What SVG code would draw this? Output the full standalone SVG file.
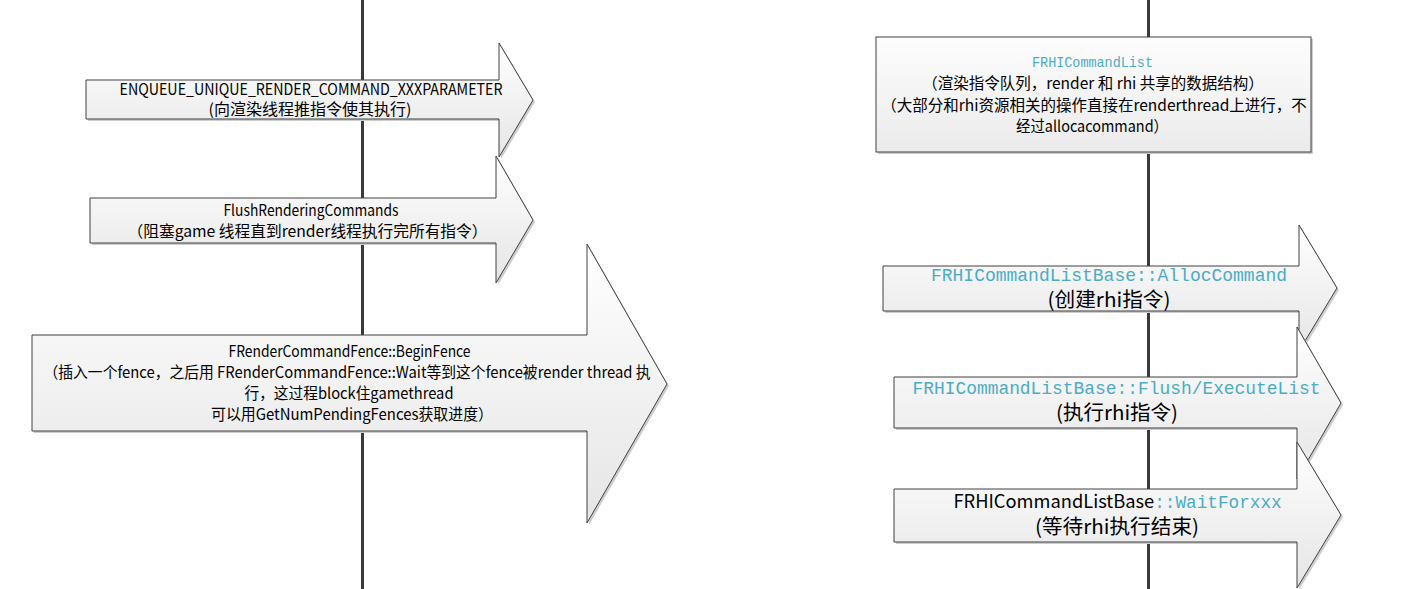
<svg xmlns="http://www.w3.org/2000/svg" width="1417" height="589" viewBox="0 0 1417 589">
<defs>
<linearGradient id="g" x1="0" y1="0" x2="0" y2="1">
<stop offset="0" stop-color="#ffffff"/>
<stop offset="1" stop-color="#e5e5e5"/>
</linearGradient>
<linearGradient id="gb" x1="0" y1="0" x2="0" y2="1">
<stop offset="0" stop-color="#fdfdfd"/>
<stop offset="1" stop-color="#ebebeb"/>
</linearGradient>
</defs>
<style>
.shape{fill:url(#g);stroke:#404040;stroke-width:1}
.box{fill:url(#gb);stroke:#404040;stroke-width:1}
.shadow{fill:#cdcdcd;stroke:none}
.line{stroke:#3a3a3a;stroke-width:3;fill:none}
.t{font-family:"Noto Sans CJK SC","Noto Sans",sans-serif;font-size:15.5px;fill:#000;text-anchor:middle}
.tb{font-family:"Noto Sans CJK SC","Noto Sans",sans-serif;font-size:20px;fill:#000;text-anchor:middle}
.m{font-family:"Liberation Mono",monospace;fill:#4bacc6}
</style>
<rect width="1417" height="589" fill="#ffffff"/>
<g id="connectors">
<line class="line" x1="362.5" y1="0" x2="362.5" y2="589"/>
<line class="line" x1="1148.5" y1="0" x2="1148.5" y2="589"/>
</g>
<g id="enqueue">
<path class="shadow" transform="translate(2,2)" d="M86,80 H499 V43 L533,100 L499,157 V119 H86 Z"/>
<path class="shape" d="M86,80 H499 V43 L533,100 L499,157 V119 H86 Z"/>
<text class="t" x="311" y="94.5" textLength="383" lengthAdjust="spacingAndGlyphs">ENQUEUE_UNIQUE_RENDER_COMMAND_XXXPARAMETER</text>
<text class="t" x="310" y="114.5" textLength="203" lengthAdjust="spacingAndGlyphs">(向渲染线程推指令使其执行)</text>
</g>
<g id="flush">
<path class="shadow" transform="translate(2,2)" d="M90,198 H496 V156 L533,220 L496,283 V243 H90 Z"/>
<path class="shape" d="M90,198 H496 V156 L533,220 L496,283 V243 H90 Z"/>
<text class="t" x="311" y="215.5" textLength="175" lengthAdjust="spacingAndGlyphs">FlushRenderingCommands</text>
<text class="t" x="307.5" y="236.5" textLength="360" lengthAdjust="spacingAndGlyphs">（阻塞game 线程直到render线程执行完所有指令）</text>
</g>
<g id="fence">
<path class="shadow" transform="translate(2,2)" d="M32,335 H587 V244 L667,384 L587,523 V431 H32 Z"/>
<path class="shape" d="M32,335 H587 V244 L667,384 L587,523 V431 H32 Z"/>
<text class="t" x="349.5" y="356.5" textLength="242" lengthAdjust="spacingAndGlyphs">FRenderCommandFence::BeginFence</text>
<text class="t" x="347" y="377.5" textLength="607" lengthAdjust="spacingAndGlyphs">（插入一个fence，之后用 FRenderCommandFence::Wait等到这个fence被render thread 执</text>
<text class="t" x="349" y="398.5" textLength="209" lengthAdjust="spacingAndGlyphs">行，这过程block住gamethread</text>
<text class="t" x="352" y="419.5" textLength="282" lengthAdjust="spacingAndGlyphs">可以用GetNumPendingFences获取进度）</text>
</g>
<g id="cmdlist">
<rect class="shadow" x="878" y="39" width="435" height="115"/>
<rect class="box" x="876" y="37" width="435" height="115"/>
<text class="m" x="1092.5" y="67" font-size="15" text-anchor="middle" textLength="121" lengthAdjust="spacingAndGlyphs">FRHICommandList</text>
<text class="t" x="1093" y="89">（渲染指令队列，render 和 rhi 共享的数据结构）</text>
<text class="t" x="1094" y="110.5">（大部分和rhi资源相关的操作直接在renderthread上进行，不</text>
<text class="t" x="1092" y="131.5" textLength="152" lengthAdjust="spacingAndGlyphs">经过allocacommand）</text>
</g>
<g id="alloc">
<path class="shadow" transform="translate(2,2)" d="M883,266 H1299 V225 L1337,288 L1299,351 V311 H883 Z"/>
<path class="shape" d="M883,266 H1299 V225 L1337,288 L1299,351 V311 H883 Z"/>
<text class="m" x="1109" y="281" font-size="18" text-anchor="middle" textLength="356" lengthAdjust="spacingAndGlyphs">FRHICommandListBase::AllocCommand</text>
<text class="tb" x="1109" y="307" textLength="123" lengthAdjust="spacingAndGlyphs">(创建rhi指令)</text>
</g>
<g id="execute">
<path class="shadow" transform="translate(2,2)" d="M894,377 H1297 V327 L1341,403 L1297,479 V428 H894 Z"/>
<path class="shape" d="M894,377 H1297 V327 L1341,403 L1297,479 V428 H894 Z"/>
<text class="m" x="1116.5" y="394" font-size="18" text-anchor="middle" textLength="408" lengthAdjust="spacingAndGlyphs">FRHICommandListBase::Flush/ExecuteList</text>
<text class="tb" x="1117" y="420" textLength="122" lengthAdjust="spacingAndGlyphs">(执行rhi指令)</text>
</g>
<g id="wait">
<path class="shadow" transform="translate(2,2)" d="M894,489 H1297 V442 L1341,515 L1297,588 V542 H894 Z"/>
<path class="shape" d="M894,489 H1297 V442 L1341,515 L1297,588 V542 H894 Z"/>
<text class="tb" x="953.5" y="507.5" style="text-anchor:start"><tspan font-size="18.3">FRHICommandListBase</tspan><tspan class="m" font-size="17.7">::WaitForxxx</tspan></text>
<text class="tb" x="1117" y="533.5" textLength="164" lengthAdjust="spacingAndGlyphs">(等待rhi执行结束)</text>
</g>
</svg>
